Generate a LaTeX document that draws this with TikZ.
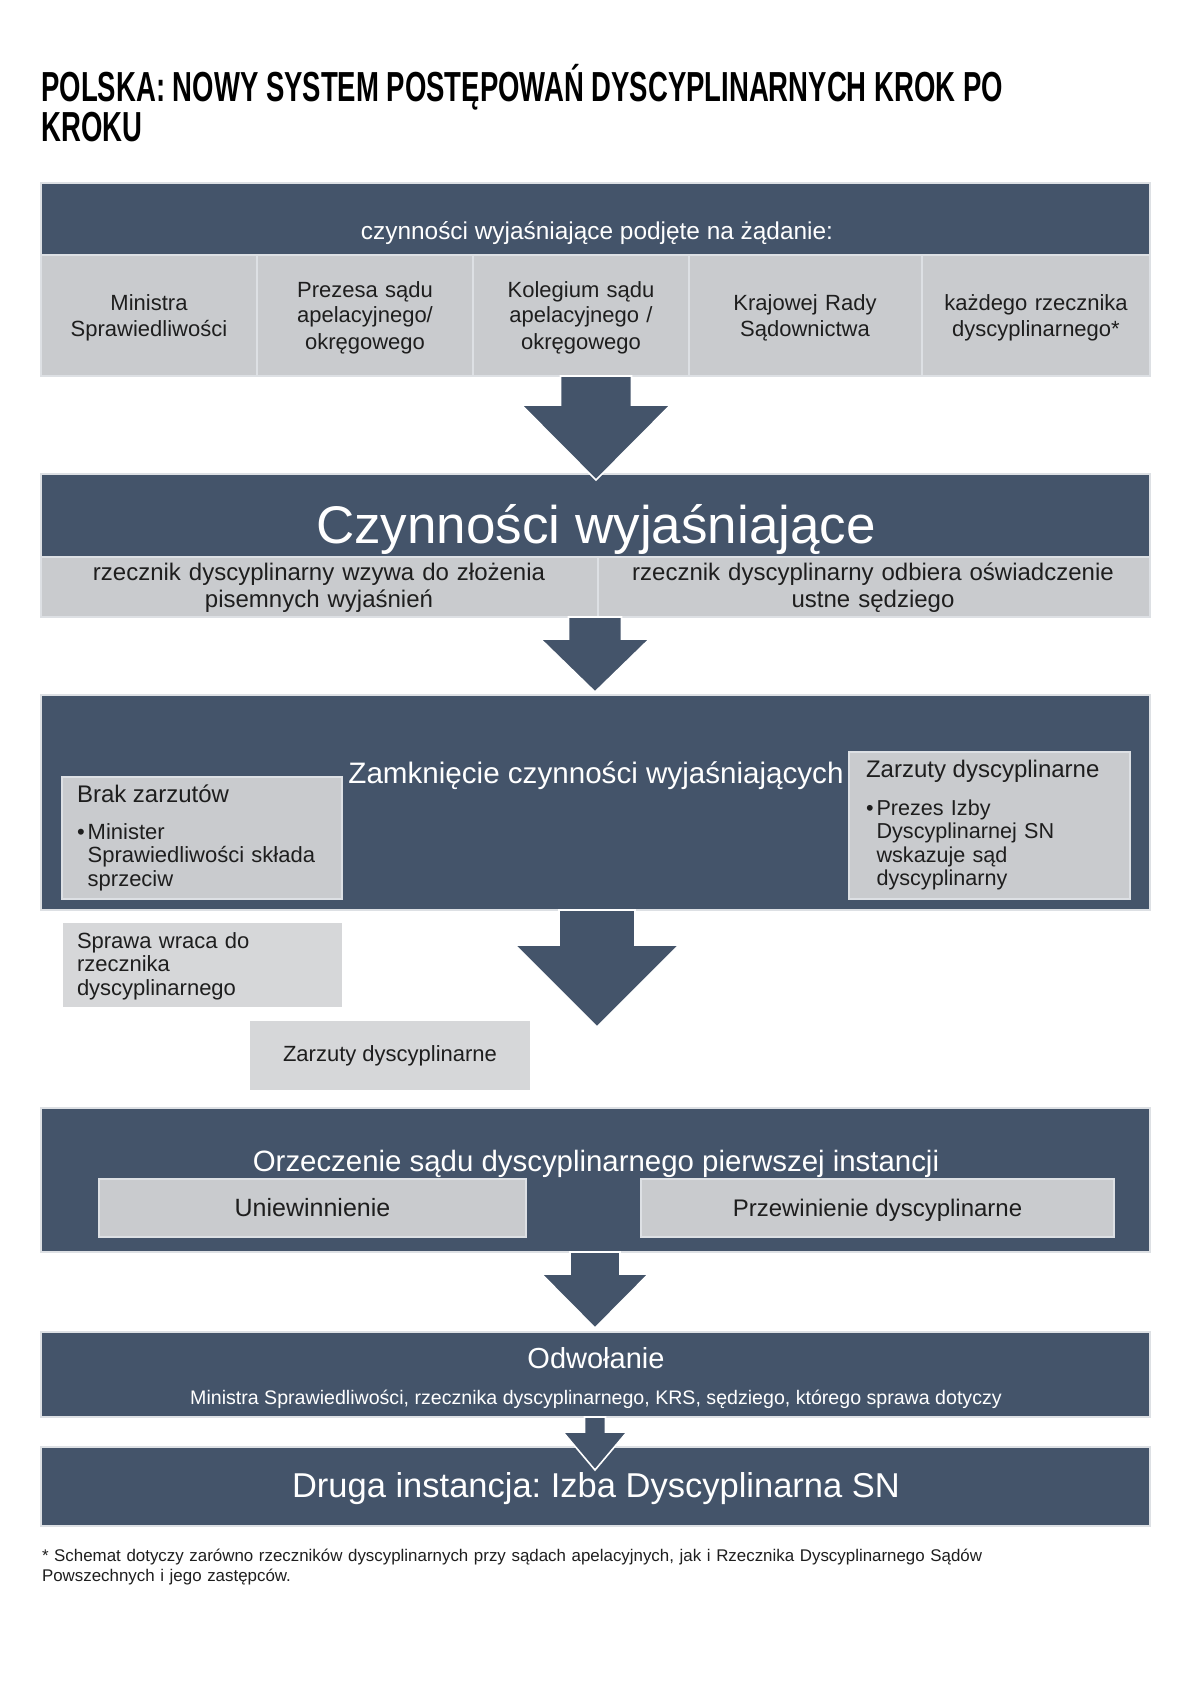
\documentclass[tikz,border=0pt]{standalone}
\usepackage{fontspec}
\setmainfont{Liberation Sans}
\newfontfamily\titlefont{Liberation Sans}[FakeStretch=0.655]
\usetikzlibrary{calc}
\frenchspacing
\definecolor{dkblue}{HTML}{44546A}
\definecolor{cellc}{HTML}{C9CBCE}
\definecolor{palec}{HTML}{D6D7D9}
\definecolor{rimc}{HTML}{DDE0E4}
\definecolor{txtc}{HTML}{1E1E1E}
\tikzset{
  darkpanel/.style={rectangle, fill=dkblue, draw=rimc, line width=0.7pt, inner sep=0pt, outer sep=0pt},
  cellpanel/.style={rectangle, fill=cellc, draw=rimc, line width=0.7pt, inner sep=0pt, outer sep=0pt},
  palepanel/.style={rectangle, fill=palec, draw=none, inner sep=0pt, outer sep=0pt},
  wtxt/.style={text=white, inner sep=0pt, outer sep=0pt},
  btxt/.style={text=txtc, inner sep=0pt, outer sep=0pt},
  arrowshape/.style={fill=dkblue, draw=white, line width=0.8pt, line join=miter}
}
\newcommand\panel[6]{\node[#2, anchor=north west, minimum width={(#5-#3)*0.5pt}, minimum height={(#6-#4)*0.5pt}] (#1) at (#3,#4) {};}
\newcommand\blockarrow[5]{%
  \path[arrowshape] ($(#1)+(-#3,0)$) -- ($(#1)+(#3,0)$) -- ($(#2)+(#3,-#5)$) -- ($(#2)+(#4,-#5)$) -- (#2) -- ($(#2)+(-#4,-#5)$) -- ($(#2)+(-#3,-#5)$) -- cycle;}
\newcommand\hang{\phantom{\textbullet}\hspace{1.5pt}}
\begin{document}
\begin{tikzpicture}[x=0.5pt,y=-0.5pt]
\useasboundingbox[fill=white] (0,0) rectangle (1190,1685);

% title
\node[anchor=base west, inner sep=0pt, font=\titlefont\bfseries\fontsize{21}{25}\selectfont] (title1) at (41,102) {POLSKA: NOWY SYSTEM POSTĘPOWAŃ DYSCYPLINARNYCH KROK PO};
\node[anchor=base west, inner sep=0pt, font=\titlefont\bfseries\fontsize{21}{25}\selectfont] (title2) at (41,142) {KROKU};

% box 1
\panel{b1}{darkpanel}{41}{183}{1150}{255}
\panel{c1}{cellpanel}{41}{255}{257}{376}
\panel{c2}{cellpanel}{257}{255}{473}{376}
\panel{c3}{cellpanel}{473}{255}{689}{376}
\panel{c4}{cellpanel}{689}{255}{922}{376}
\panel{c5}{cellpanel}{922}{255}{1150}{376}
\node[wtxt, anchor=base, font=\fontsize{12.2}{14}\selectfont] (t1) at (597,240) {czynności wyjaśniające podjęte na żądanie:};
\node[btxt, anchor=base, text width=200pt, align=center, font=\fontsize{11}{13}\selectfont] (t1a) at (149,310) {Ministra\\Sprawiedliwości};
\node[btxt, anchor=base, text width=200pt, align=center, font=\fontsize{11}{13}\selectfont] (t1b) at (365,297) {Prezesa sądu\\apelacyjnego/\\okręgowego};
\node[btxt, anchor=base, text width=200pt, align=center, font=\fontsize{11}{13}\selectfont] (t1c) at (581,297) {Kolegium sądu\\apelacyjnego /\\okręgowego};
\node[btxt, anchor=base, text width=200pt, align=center, font=\fontsize{11}{13}\selectfont] (t1d) at (805,310) {Krajowej Rady\\Sądownictwa};
\node[btxt, anchor=base, text width=200pt, align=center, font=\fontsize{11}{13}\selectfont] (t1e) at (1036,310) {każdego rzecznika\\dyscyplinarnego*};

% box 2
\panel{b2}{darkpanel}{41}{474}{1150}{557}
\panel{g1}{cellpanel}{41}{557}{598}{617}
\panel{g2}{cellpanel}{598}{557}{1150}{617}
\node[wtxt, anchor=base, font=\fontsize{26.5}{29}\selectfont] (t2) at (596,543) {Czynności wyjaśniające};
\node[btxt, anchor=base, text width=270pt, align=center, font=\fontsize{12}{13.5}\selectfont] (t2a) at (319,580) {rzecznik dyscyplinarny wzywa do złożenia\\pisemnych wyjaśnień};
\node[btxt, anchor=base, text width=270pt, align=center, font=\fontsize{12}{13.5}\selectfont] (t2b) at (873,580) {rzecznik dyscyplinarny odbiera oświadczenie\\ustne sędziego};

% box 3
\panel{b3}{darkpanel}{41}{695}{1150}{910}
\panel{bl}{cellpanel}{62}{777}{342}{899}
\panel{br}{cellpanel}{849}{752}{1130}{899}
\node[wtxt, anchor=base, font=\fontsize{14.8}{17}\selectfont] (t3) at (596,783) {Zamknięcie czynności wyjaśniających};
\node[btxt, anchor=base west, font=\fontsize{12}{14}\selectfont] (t3a) at (77,802) {Brak zarzutów};
\node[btxt, anchor=base west, text width=130pt, align=left, font=\fontsize{11}{11.75}\selectfont] (t3b) at (77,839)
  {\textbullet\hspace{1.5pt}Minister\\\hang Sprawiedliwości składa\\\hang sprzeciw};
\node[btxt, anchor=base west, font=\fontsize{12}{14}\selectfont] (t3c) at (866,777) {Zarzuty dyscyplinarne};
\node[btxt, anchor=base west, text width=130pt, align=left, font=\fontsize{10.8}{11.75}\selectfont] (t3d) at (866,815)
  {\textbullet\hspace{1.5pt}Prezes Izby\\\hang Dyscyplinarnej SN\\\hang wskazuje sąd\\\hang dyscyplinarny};

\panel{sp}{palepanel}{63}{923}{342}{1007}
\node[btxt, anchor=base west, text width=130pt, align=left, font=\fontsize{11}{11.75}\selectfont] (t3e) at (77,948)
  {Sprawa wraca do\\rzecznika\\dyscyplinarnego};
\panel{zd}{palepanel}{250}{1021}{530}{1090}
\node[btxt, font=\fontsize{11}{13}\selectfont] (t3f) at (zd.center) {Zarzuty dyscyplinarne};

% box 4
\panel{b4}{darkpanel}{41}{1108}{1150}{1252}
\panel{u1}{cellpanel}{99}{1179}{526}{1237}
\panel{u2}{cellpanel}{641}{1179}{1114}{1237}
\node[wtxt, anchor=base, font=\fontsize{14.7}{17}\selectfont] (t4) at (596,1171) {Orzeczenie sądu dyscyplinarnego pierwszej instancji};
\node[btxt, anchor=base, font=\fontsize{12.5}{14}\selectfont] (t4a) at (312.5,1216) {Uniewinnienie};
\node[btxt, anchor=base, font=\fontsize{12}{14}\selectfont] (t4b) at (877.5,1216) {Przewinienie dyscyplinarne};

% box 5
\panel{b5}{darkpanel}{41}{1332}{1150}{1417}
\node[wtxt, anchor=base, font=\fontsize{14.5}{16}\selectfont] (t5) at (596,1368) {Odwołanie};
\node[wtxt, anchor=base, font=\fontsize{9.8}{12}\selectfont] (t5a) at (596,1404) {Ministra Sprawiedliwości, rzecznika dyscyplinarnego, KRS, sędziego, którego sprawa dotyczy};

% box 6
\panel{b6}{darkpanel}{41}{1447}{1150}{1526}
\node[wtxt, anchor=base, font=\fontsize{17.25}{20}\selectfont] (t6) at (596,1497) {Druga instancja: Izba Dyscyplinarna SN};

% footnote
\node[btxt, anchor=base west, text width=570pt, align=left, font=\fontsize{8.45}{10.3}\selectfont] (fn) at (42,1561)
  {* Schemat dotyczy zarówno rzeczników dyscyplinarnych przy sądach apelacyjnych, jak i Rzecznika Dyscyplinarnego Sądów\\Powszechnych i jego zastępców.};

% arrows
\coordinate (a1s) at (596,0 |- c3.south);
\coordinate (a1e) at (596,480);
\coordinate (a2s) at (595,0 |- g1.south);
\coordinate (a2e) at (595,692);
\coordinate (a3s) at (597,0 |- b3.south);
\coordinate (a3e) at (597,1027);
\coordinate (a4s) at (595,0 |- b4.south);
\coordinate (a4e) at (595,1328);
\coordinate (a5s) at (595,0 |- b5.south);
\coordinate (a5e) at (595,1470);
\blockarrow{a1s}{a1e}{35.5}{74.5}{75}
\blockarrow{a2s}{a2e}{26.5}{54.5}{53}
\blockarrow{a3s}{a3e}{38}{82}{82}
\blockarrow{a4s}{a4e}{25}{53.5}{54}
\blockarrow{a5s}{a5e}{10.5}{32}{38}
\end{tikzpicture}
\end{document}
